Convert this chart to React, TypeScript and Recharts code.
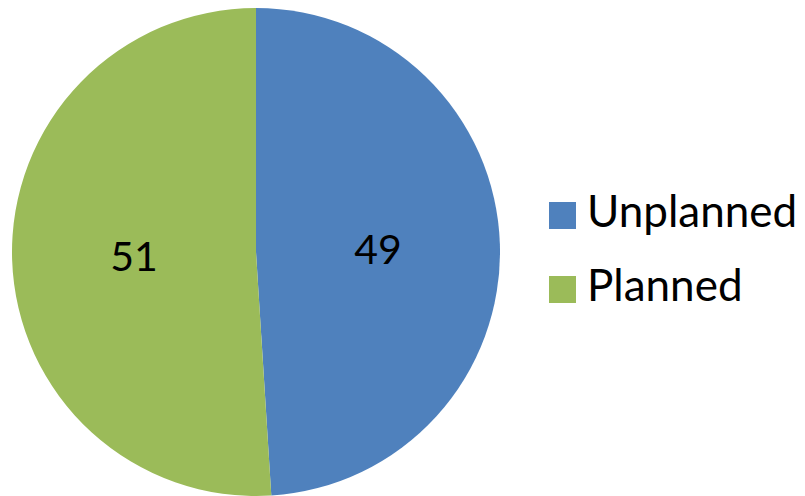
import { Cell, Legend, Pie, PieChart } from "recharts";

const categories = ["Unplanned", "Planned"];
const values = [49, 51];
const colors = ["#4F81BD", "#9BBB59"];

const data = categories.map((name, i) => ({ name, value: values[i] }));

const RADIAN = Math.PI / 180;

function renderLabel(props: any) {
  const { cx, cy, midAngle, outerRadius, value } = props;
  const r = outerRadius * 0.5;
  const x = cx + r * Math.cos(-midAngle * RADIAN);
  const y = cy + r * Math.sin(-midAngle * RADIAN);
  return (
    <text
      x={x}
      y={y}
      fill="#000"
      fontSize={41}
      fontFamily="Lato, sans-serif"
      textAnchor="middle"
      dominantBaseline="central"
    >
      {value}
    </text>
  );
}

function renderLegend() {
  return (
    <div style={{ position: "relative", fontFamily: "Lato, sans-serif", fontSize: 44, color: "#000" }}>
      {data.map((d, i) => (
        <div key={d.name}>
          <span
            style={{
              position: "absolute",
              left: 0,
              top: 24 + i * 74,
              width: 27,
              height: 27,
              background: colors[i],
            }}
          />
          <span
            style={{
              position: "absolute",
              left: 38,
              top: 10 + i * 74,
              lineHeight: "44px",
              whiteSpace: "nowrap",
            }}
          >
            {d.name}
          </span>
        </div>
      ))}
    </div>
  );
}

export default function App() {
  return (
    <div style={{ position: "absolute", left: 0, top: 0, background: "#fff" }}>
      <PieChart width={805} height={496} margin={{ top: 0, right: 0, bottom: 0, left: 0 }}>
        <Pie
          data={data}
          dataKey="value"
          nameKey="name"
          cx={256}
          cy={252}
          outerRadius={244}
          startAngle={90}
          endAngle={-270}
          stroke="none"
          label={renderLabel}
          labelLine={false}
          isAnimationActive={false}
        >
          {data.map((d, i) => (
            <Cell key={d.name} fill={colors[i]} />
          ))}
        </Pie>
        <Legend
          content={renderLegend}
          wrapperStyle={{ position: "absolute", left: 549, top: 178, width: 256, height: 160 }}
        />
      </PieChart>
    </div>
  );
}
